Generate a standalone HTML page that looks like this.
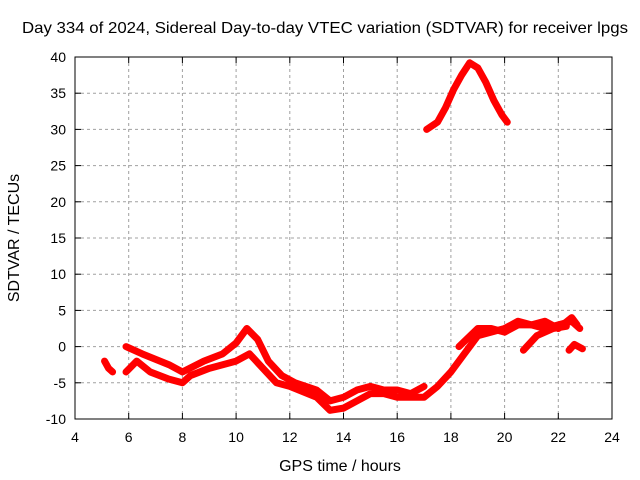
<!DOCTYPE html>
<html><head><meta charset="utf-8"><style>
body{margin:0;background:#fff}
svg{display:block;font-family:"Liberation Sans",sans-serif;font-size:14px}
</style></head><body>
<svg id="chart" width="640" height="480">
<text x="325" y="33" text-anchor="middle" style="font-size:16px" textLength="606" lengthAdjust="spacingAndGlyphs">Day 334 of 2024, Sidereal Day-to-day VTEC variation (SDTVAR) for receiver lpgs</text>
<g id="grid"></g>
<g id="ticks"></g>
<g id="series"></g>
<rect x="75" y="57" width="537" height="362" fill="none" stroke="#000" stroke-width="1"/>
<text x="340" y="471" text-anchor="middle" style="font-size:16px">GPS time / hours</text>
<text transform="translate(19,238) rotate(-90)" text-anchor="middle" style="font-size:16px">SDTVAR / TECUs</text>
</svg>
<script>
const xTicks=[4,6,8,10,12,14,16,18,20,22,24];
const yTicks=[-10,-5,0,5,10,15,20,25,30,35,40];
const segA_x=[5.1,5.25,5.4];
const segA_y=[-2,-3,-3.5];
const upper_x=[5.9,6.5,7.5,8,8.8,9.5,10,10.4,10.8,11.2,11.7,12.2,13,13.5,14,14.5,15,15.5,16,16.5,17];
const upper_y=[0,-1,-2.5,-3.5,-2,-1,0.5,2.5,1,-2,-4,-5,-6,-7.5,-7,-6,-5.5,-6,-6,-6.5,-5.5];
const lower_x=[5.9,6.3,6.8,7.5,8,8.3,9,9.5,10,10.5,11,11.5,12,13,13.5,14,14.5,15,15.5,16,16.5,17,17.5,18,18.5,19,19.5,20,20.5,21,21.5,22,22.5,22.8];
const lower_y=[-3.5,-2,-3.5,-4.5,-5,-4,-3,-2.5,-2,-1,-3,-5,-5.5,-7,-8.8,-8.5,-7.5,-6.5,-6.5,-7,-7,-7,-5.5,-3.5,-1,1.5,2,2.5,3.5,3,2.5,3,3.5,2.5];
const upper2_x=[18.3,19,19.5,20,20.5,21,21.5,22,22.5,22.7];
const upper2_y=[0,2.5,2.5,2,3,3,3.5,2.5,4,3];
const segE_x=[20.7,21.2,21.8,22.3];
const segE_y=[-0.5,1.5,2.5,2.8];
const segF_x=[22.4,22.6,22.9];
const segF_y=[-0.5,0.3,-0.3];
const peak_x=[17.1,17.5,17.8,18.1,18.4,18.7,19.0,19.3,19.6,19.9,20.1];
const peak_y=[30,31,33,35.5,37.5,39.2,38.5,36.5,34,32,31];
const L=75,R=612,T=57,B=419;
const sx=v=>L+(v-4)/20*(R-L), sy=v=>B-(v+10)/50*(B-T);
const NS='http://www.w3.org/2000/svg';
function mk(tag,attrs,parent){const e=document.createElementNS(NS,tag);for(const k in attrs)e.setAttribute(k,attrs[k]);parent.appendChild(e);return e;}
const grid=document.getElementById('grid'),ticks=document.getElementById('ticks'),ser=document.getElementById('series');
xTicks.forEach(v=>{const x=sx(v);
 if(v>4&&v<24){const g=mk('line',{x1:x,x2:x,y1:T,y2:B,stroke:'#a0a0a0','stroke-dasharray':'3,3'},grid);}
 const t=mk('line',{x1:x,x2:x,y1:B,y2:B-6,stroke:'#000'},ticks);
 const t2=mk('line',{x1:x,x2:x,y1:T,y2:T+6,stroke:'#000'},ticks);
 const l=mk('text',{x:x,y:B+23,'text-anchor':'middle'},ticks);l.textContent=v;});
yTicks.forEach(v=>{const y=sy(v);
 if(v>-10&&v<40){const g=mk('line',{x1:L,x2:R,y1:y,y2:y,stroke:'#a0a0a0','stroke-dasharray':'3,3'},grid);}
 const t=mk('line',{x1:L,x2:L+6,y1:y,y2:y,stroke:'#000'},ticks);
 const t2=mk('line',{x1:R,x2:R-6,y1:y,y2:y,stroke:'#000'},ticks);
 const l=mk('text',{x:L-9,y:y+5,'text-anchor':'end'},ticks);l.textContent=v;});
[[segA_x,segA_y],[upper_x,upper_y],[lower_x,lower_y],[upper2_x,upper2_y],[segE_x,segE_y],[segF_x,segF_y],[peak_x,peak_y]].forEach(([xs,ys])=>{
 const p=mk('polyline',{points:xs.map((x,i)=>sx(x)+','+sy(ys[i])).join(' '),fill:'none',stroke:'#f00','stroke-width':7,'stroke-linejoin':'round','stroke-linecap':'round'},ser);
 
 });
</script>
</body></html>
